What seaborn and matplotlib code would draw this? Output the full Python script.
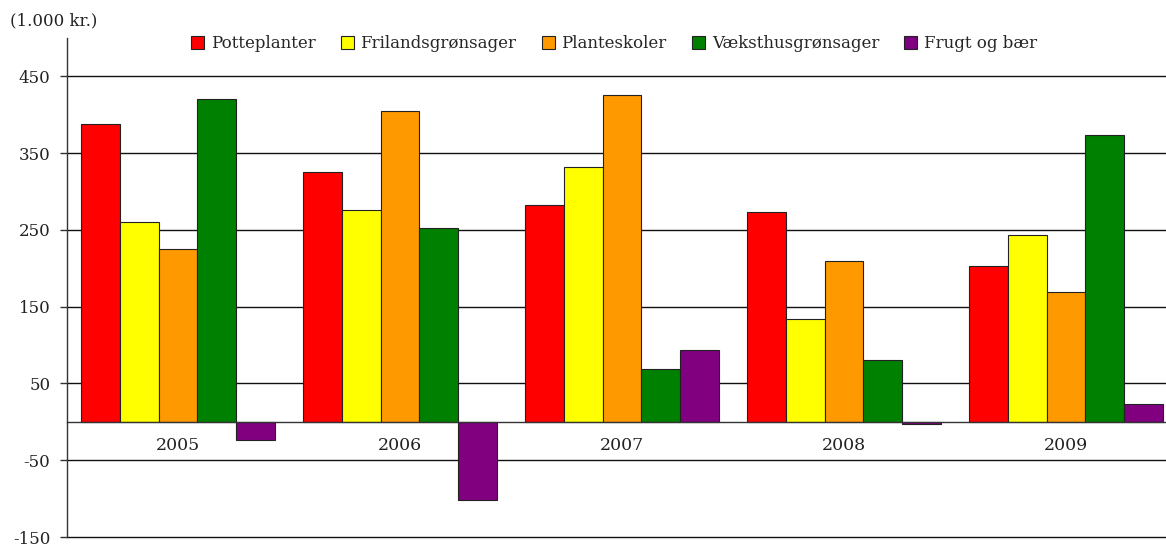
import matplotlib
matplotlib.use("Agg")
import matplotlib.pyplot as plt
from matplotlib.patches import Patch
from matplotlib.ticker import FixedLocator
import seaborn as sns
import pandas as pd

years = ["2005", "2006", "2007", "2008", "2009"]
series_names = ["Potteplanter", "Frilandsgrønsager", "Planteskoler", "Væksthusgrønsager", "Frugt og bær"]
potteplanter = [388, 326, 283, 273, 203]
frilandsgronsager = [260, 276, 332, 134, 244]
planteskoler = [225, 405, 426, 210, 169]
vaeksthusgronsager = [421, 253, 69, 81, 373]
frugt_og_baer = [-24, -102, 93, -3, 23]
colors = ["#FF0000", "#FFFF00", "#FF9900", "#008000", "#800080"]
y_ticks = [-150, -50, 50, 150, 250, 350, 450]
unit_label = "(1.000 kr.)"

all_series = [potteplanter, frilandsgronsager, planteskoler, vaeksthusgronsager, frugt_og_baer]
rows = []
for name, vals in zip(series_names, all_series):
    for yr, v in zip(years, vals):
        rows.append({"year": yr, "type": name, "value": v})
df = pd.DataFrame(rows)

sns.set_style("white")
plt.rcParams["font.family"] = ["DejaVu Serif"]
plt.rcParams["font.size"] = 12
plt.rcParams["axes.unicode_minus"] = False

W, H = 1166, 547
fig = plt.figure(figsize=(W / 100, H / 100), dpi=100)
ax = fig.add_axes([67 / W, 1 - 537 / H, 1110 / W, (537 - 38) / H])

sns.barplot(data=df, x="year", y="value", hue="type", order=years, hue_order=series_names,
            palette=colors, width=0.87, gap=0, edgecolor="#222222", linewidth=0.8,
            legend=False, ax=ax, errorbar=None, saturation=1)

ax.set_xlim(-0.5, 4.5)
ax.set_ylim(-150, 500)
ax.set_yticks(y_ticks)
ax.yaxis.grid(True, color="#111111", linewidth=1.0)
for gl in ax.get_ygridlines():
    gl.set_clip_on(False)
ax.set_axisbelow(True)
ax.set_xlabel("")
ax.set_ylabel("")

for s in ["top", "right"]:
    ax.spines[s].set_visible(False)
ax.spines["left"].set_color("#333333")
ax.spines["left"].set_linewidth(1.0)
ax.spines["bottom"].set_position(("data", 0))
ax.spines["bottom"].set_color("#333333")
ax.spines["bottom"].set_linewidth(1.0)

ax.xaxis.set_minor_locator(FixedLocator([0.5, 1.5, 2.5, 3.5]))
ax.tick_params(axis="x", which="major", length=0, pad=11, labelsize=12.5, colors="#222222")
ax.tick_params(axis="x", which="minor", length=5, width=1, color="#333333", direction="out")
ax.tick_params(axis="y", which="major", length=5, width=1, color="#333333", pad=7,
               labelsize=12, left=True, labelcolor="#222222")

handles = [Patch(facecolor=c, edgecolor="#222222", linewidth=0.8) for c in colors]
fig.legend(handles, series_names, loc="center", bbox_to_anchor=(614 / W, 1 - 44 / H),
           ncol=5, frameon=False, fontsize=12, handlelength=0.8, handleheight=0.8,
           handletextpad=0.4, columnspacing=1.5, borderaxespad=0)

fig.text(10 / W, 1 - 21 / H, unit_label, ha="left", va="center", fontsize=12, color="#222222")

fig.savefig("out.png", dpi=100)
